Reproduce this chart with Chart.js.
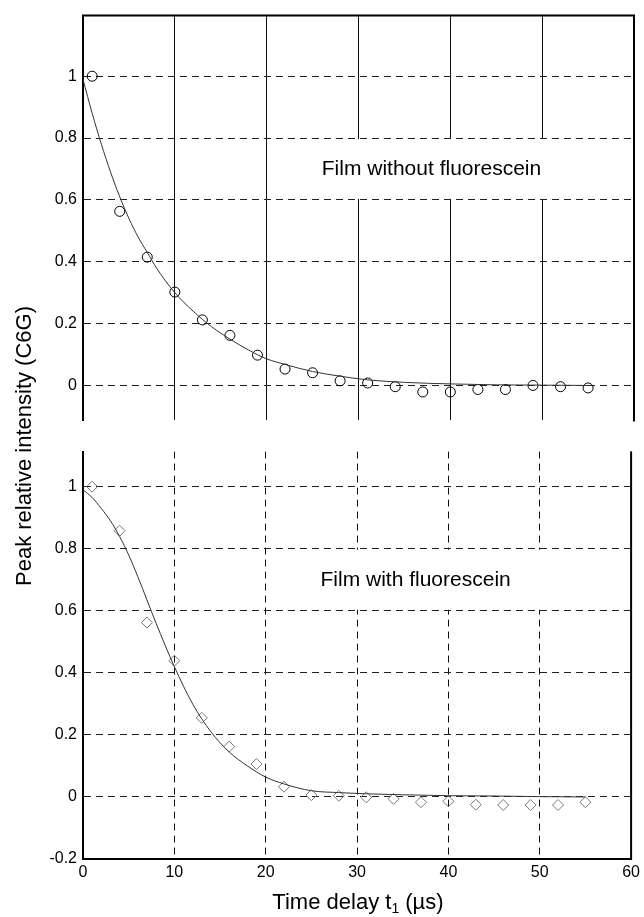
<!DOCTYPE html>
<html>
<head>
<meta charset="utf-8">
<script src="https://cdn.jsdelivr.net/npm/chart.js@4"></script>
<style>
  body { margin: 0; background: #fff; font-family: "Liberation Sans", Arial, sans-serif; }
  #wrap { position: relative; width: 644px; height: 917px; }
  canvas { position: absolute; left: 0; }
  #top { top: 0; }
  #bottom { top: 436px; }
  .ttl { position: absolute; font-size: 22px; line-height: 26px; color: #000; text-align: center; white-space: nowrap; }
  #xTitle { left: 208px; width: 300px; top: 889px; }
  #yTitle { left: -176px; width: 400px; top: 433px; transform: rotate(-90deg); }
  sub { font-size: 14px; vertical-align: -4px; line-height: 0; }
</style>
</head>
<body>
<div id="wrap">
  <canvas id="top" width="644" height="436"></canvas>
  <canvas id="bottom" width="644" height="481"></canvas>
  <div class="ttl" id="xTitle">Time delay t<sub>1</sub> (µs)</div>
  <div class="ttl" id="yTitle">Peak relative intensity (C6G)</div>
</div>
<script>
// measured points
var delays = [1, 4, 7, 10, 13, 16, 19, 22, 25, 28, 31, 34, 37, 40, 43, 46, 49, 52, 55];
var withoutFluor = [1.0, 0.563, 0.415, 0.302, 0.212, 0.162, 0.098, 0.053, 0.041, 0.015, 0.008, -0.004, -0.021, -0.021, -0.013, -0.013, 0.0, -0.004, -0.008];
var withFluor = [1.0, 0.858, 0.562, 0.439, 0.255, 0.162, 0.106, 0.033, 0.006, 0.004, -0.001, -0.006, -0.017, -0.014, -0.025, -0.026, -0.026, -0.026, -0.017];

// fitted curves
var fitTimes = [0, 1, 2, 3, 4, 5, 6, 7, 8, 10, 12, 14, 16, 18, 20, 22, 25, 28, 31, 35, 40, 45, 50, 55];
var fitWithout = [0.99, 0.88, 0.78, 0.69, 0.61, 0.54, 0.48, 0.43, 0.38, 0.30, 0.24, 0.19, 0.15, 0.115, 0.086, 0.068, 0.045, 0.03, 0.018, 0.01, 0.005, 0.002, 0.001, 0];
var fitWith = [0.99, 0.965, 0.93, 0.89, 0.84, 0.78, 0.71, 0.635, 0.56, 0.42, 0.30, 0.21, 0.145, 0.10, 0.064, 0.042, 0.02, 0.014, 0.01, 0.007, 0.004, 0.003, 0.001, 0];

// ticks
var xTicks = [0, 10, 20, 30, 40, 50, 60];
var yTicksTop = [0, 0.2, 0.4, 0.6, 0.8, 1];
var yTicksBottom = [-0.2, 0, 0.2, 0.4, 0.6, 0.8, 1];

Chart.defaults.font.family = '"Liberation Sans", Arial, sans-serif';
Chart.defaults.font.size = 16;
Chart.defaults.color = '#000';

function pts(xs, ys) {
  return xs.map(function (x, i) { return { x: x, y: ys[i] }; });
}

// top / right frame lines
var framePlugin = {
  id: 'frame',
  afterDatasetsDraw: function (chart, args, opts) {
    var ctx = chart.ctx, a = chart.chartArea;
    ctx.save();
    ctx.strokeStyle = '#000';
    ctx.lineWidth = 2;
    ctx.beginPath();
    if (opts.top) { ctx.moveTo(a.left - 1, a.top); ctx.lineTo(a.right + 1, a.top); }
    if (opts.right) { ctx.moveTo(a.right, a.top); ctx.lineTo(a.right, a.bottom + 1); }
    ctx.stroke();
    ctx.restore();
  }
};

// label with white backing box
var notePlugin = {
  id: 'note',
  beforeDatasetsDraw: function (chart, args, opts) {
    var ctx = chart.ctx, sx = chart.scales.x, sy = chart.scales.y;
    var x0 = sx.getPixelForValue(opts.box[0]), x1 = sx.getPixelForValue(opts.box[1]);
    var y0 = sy.getPixelForValue(opts.box[3]), y1 = sy.getPixelForValue(opts.box[2]);
    ctx.save();
    ctx.fillStyle = '#fff';
    ctx.fillRect(x0, y0 + 1, x1 - x0, y1 - y0 - 2);
    ctx.fillStyle = '#000';
    ctx.font = '21px "Liberation Sans", Arial, sans-serif';
    ctx.textAlign = 'left';
    ctx.textBaseline = 'middle';
    ctx.fillText(opts.text, sx.getPixelForValue(opts.at[0]), sy.getPixelForValue(opts.at[1]));
    ctx.restore();
  }
};

function makeChart(id, cfg) {
  var yTicks = cfg.yTicks;
  return new Chart(document.getElementById(id), {
    type: 'scatter',
    data: {
      datasets: [{
        data: pts(fitTimes, cfg.fit),
        showLine: true,
        pointRadius: 0,
        borderColor: '#333',
        borderWidth: 1,
        cubicInterpolationMode: 'monotone'
      }, {
        data: pts(delays, cfg.values),
        showLine: false,
        pointStyle: cfg.marker,
        pointRadius: cfg.marker === 'circle' ? 5 : 5.5,
        borderColor: cfg.markerColor,
        backgroundColor: 'rgba(0,0,0,0)',
        borderWidth: 1
      }]
    },
    options: {
      responsive: false,
      animation: false,
      devicePixelRatio: 1,
      layout: { padding: cfg.padding },
      plugins: {
        legend: { display: false },
        tooltip: { enabled: false },
        frame: { top: cfg.frameTop, right: true },
        note: cfg.note
      },
      scales: {
        x: {
          type: 'linear',
          min: 0,
          max: 60,
          afterBuildTicks: function (s) { s.ticks = xTicks.map(function (v) { return { value: v }; }); },
          afterFit: function (s) { s.height = cfg.xHeight; },
          ticks: { display: cfg.xLabels, padding: 4, maxRotation: 0, callback: function (v) { return String(v); } },
          grid: { color: '#111', lineWidth: 1, drawTicks: false },
          border: { display: cfg.xLabels, width: 2, color: '#000', dash: cfg.xDash }
        },
        y: {
          type: 'linear',
          min: cfg.yMin,
          max: cfg.yMax,
          afterBuildTicks: function (s) { s.ticks = yTicks.map(function (v) { return { value: v }; }); },
          afterFit: function (s) { s.width = 83; },
          ticks: { padding: 6, callback: function (v) { return String(v); } },
          grid: { color: '#222', lineWidth: 1, drawTicks: false },
          border: { display: true, width: 2, color: '#000', dash: [7, 5] }
        }
      }
    },
    plugins: [framePlugin, notePlugin]
  });
}

makeChart('top', {
  fit: fitWithout,
  values: withoutFluor,
  marker: 'circle',
  markerColor: '#000',
  yTicks: yTicksTop,
  yMin: -0.113,
  yMax: 1.196,
  xLabels: false,
  xHeight: 0,
  xDash: [],
  frameTop: true,
  padding: { left: 0, right: 10, top: 14, bottom: 14 },
  note: { text: 'Film without fluorescein', at: [26, 0.7], box: [25.6, 51.5, 0.6, 0.8] }
});

makeChart('bottom', {
  fit: fitWith,
  values: withFluor,
  marker: 'rectRot',
  markerColor: '#777',
  yTicks: yTicksBottom,
  yMin: -0.2,
  yMax: 1.113,
  xLabels: true,
  xHeight: 58,
  xDash: [7, 5],
  frameTop: false,
  padding: { left: 0, right: 10, top: 13, bottom: 0 },
  note: { text: 'Film with fluorescein', at: [26, 0.7], box: [25.6, 51.5, 0.6, 0.8] }
});
</script>
</body>
</html>
